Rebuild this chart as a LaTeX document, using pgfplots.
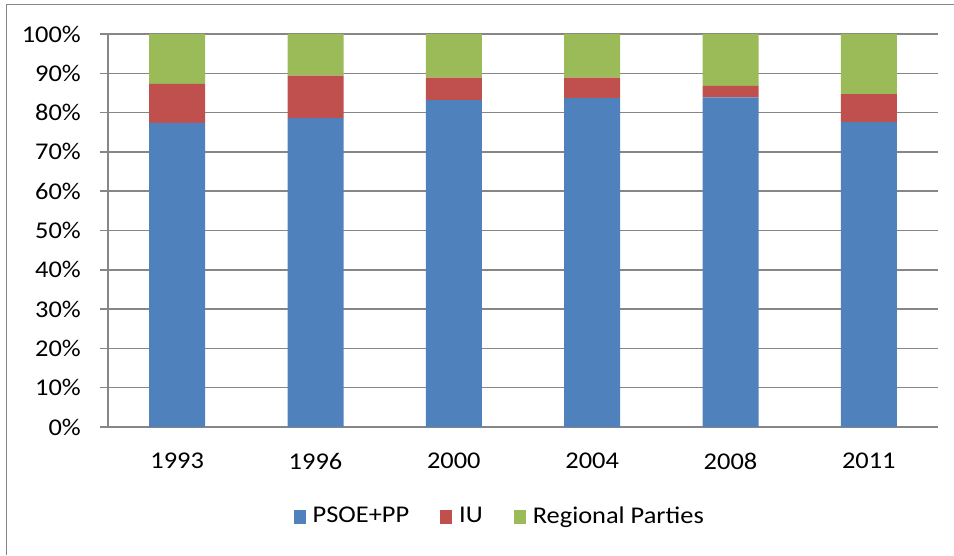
\documentclass[border=0pt]{standalone}
\usepackage{pgfplots}
\pgfplotsset{compat=1.18}
\usepackage{fontspec}
\setmainfont{Carlito}[FakeStretch=1.1]
\definecolor{cblue}{RGB}{79,129,189}
\definecolor{cred}{RGB}{192,80,77}
\definecolor{cgreen}{RGB}{155,187,89}
\definecolor{cgrid}{RGB}{134,134,134}
\begin{document}
\fontsize{24}{28}\selectfont
\begin{tikzpicture}[x=1pt,y=1pt]
\useasboundingbox (0,0) rectangle (954,555);
\draw[cgrid,line width=1.5pt] (6.5,0) -- (6.5,550.5) -- (954,550.5);
\begin{axis}[
  at={(108pt,128pt)}, anchor=south west,
  scale only axis, width=830pt, height=393pt,
  ybar stacked, bar width=56pt,
  xmin=-0.5, xmax=5.5, ymin=0, ymax=100,
  xtick={0,1,2,3,4,5},
  xticklabels={1993,1996,2000,2004,2008,2011},
  minor xtick={-0.5,0.5,1.5,2.5,3.5,4.5,5.5},
  ytick={0,10,...,100},
  yticklabel={\pgfmathprintnumber{\tick}\%},
  /pgf/number format/assume math mode=true,
  axis x line*=bottom, axis y line*=left,
  axis line style={cgrid,line width=1.5pt,-},
  tick align=outside,
  major tick length=8pt, minor tick length=8pt,
  x tick style={draw=none},
  minor x tick style={cgrid,line width=1.5pt},
  y tick style={cgrid,line width=1.5pt},
  ymajorgrids, major grid style={cgrid,line width=1.5pt},
  yticklabel style={anchor=east,xshift=-11pt},
  xticklabel style={anchor=north,yshift=-10pt},
  tick label style={font=\fontsize{24}{28}\selectfont},
  legend style={at={(0.472,-0.229)}, anchor=center, draw=none,
    legend columns=-1, font=\fontsize{24}{28}\selectfont,
    /tikz/every odd column/.append style={column sep=5pt},
    /tikz/every even column/.append style={column sep=29pt}},
  legend cell align=left,
  legend image code/.code={\fill[#1] (0pt,-7pt) rectangle (12pt,7pt);},
]
\addplot[fill=cblue,draw=none] coordinates {(0,77.4) (1,78.6) (2,83.2) (3,83.7) (4,83.9) (5,77.6)};
\addplot[fill=cred,draw=none] coordinates {(0,9.9) (1,10.8) (2,5.7) (3,5.2) (4,2.9) (5,7.1)};
\addplot[fill=cgreen,draw=none] coordinates {(0,12.7) (1,10.6) (2,11.1) (3,11.1) (4,13.2) (5,15.3)};
\legend{PSOE+PP,IU,Regional Parties}
\end{axis}
\end{tikzpicture}
\end{document}
